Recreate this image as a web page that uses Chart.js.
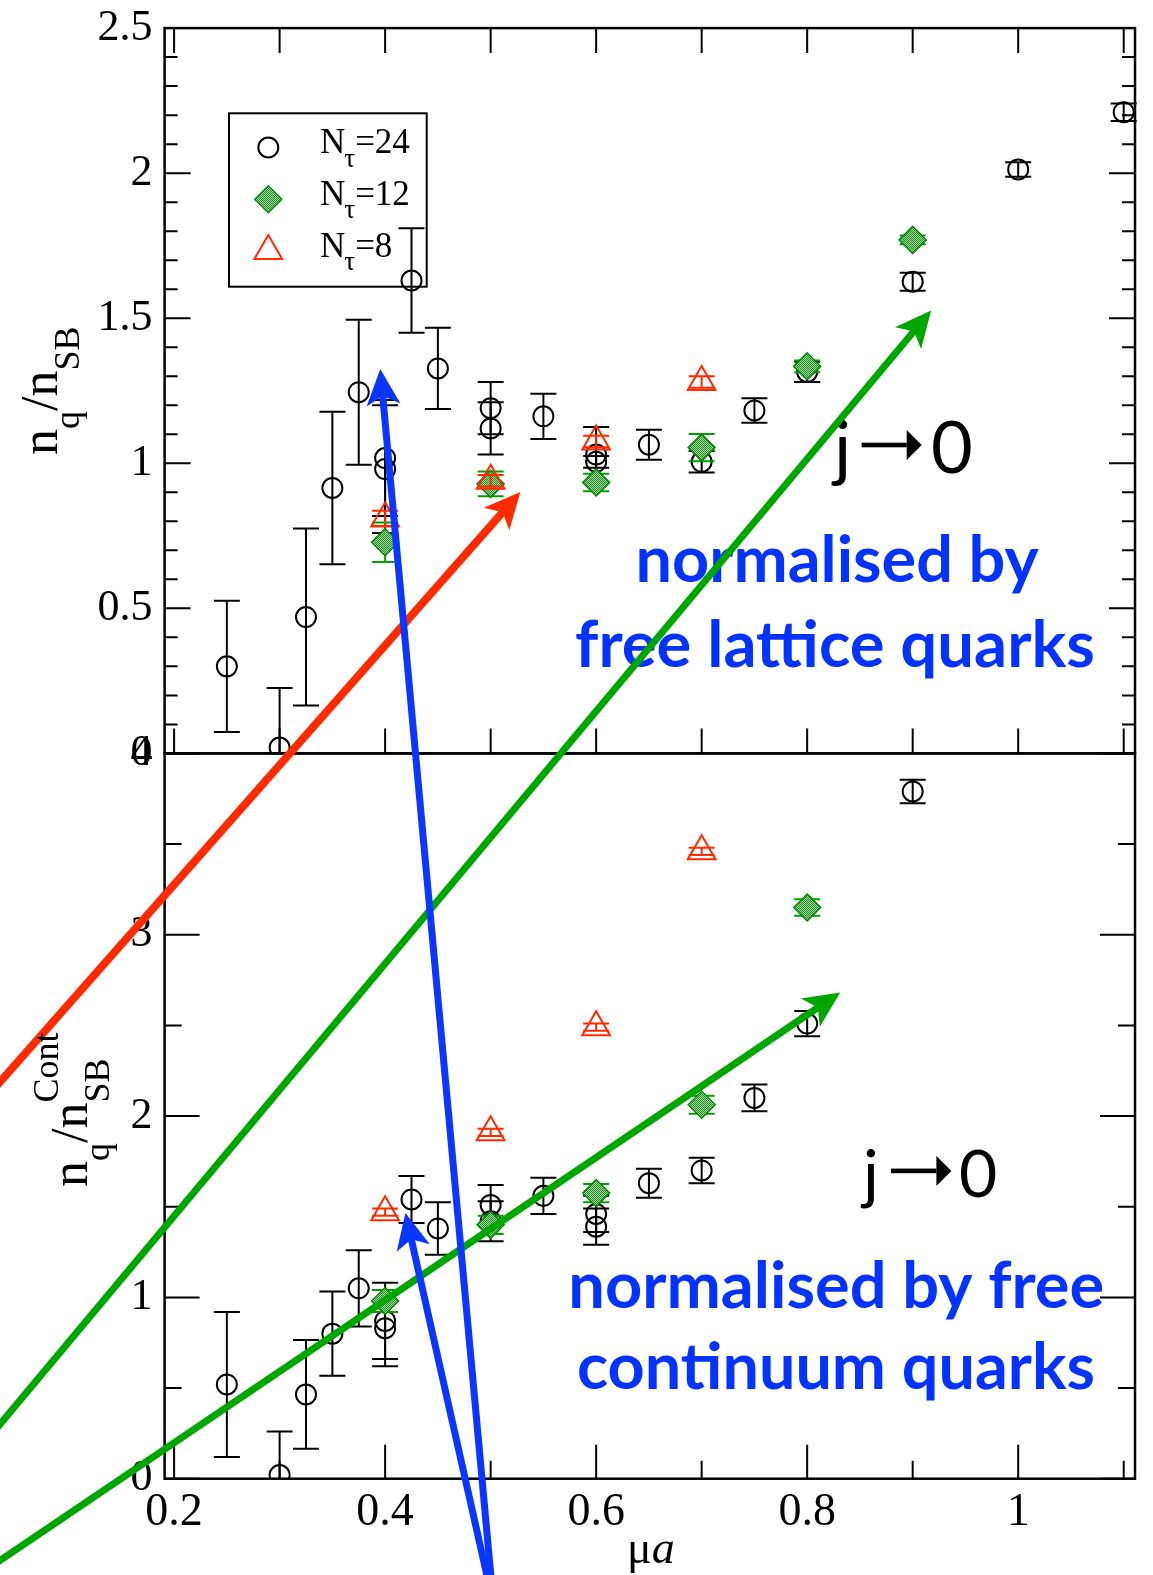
<!DOCTYPE html>
<html>
<head>
<meta charset="utf-8">
<script src="https://cdn.jsdelivr.net/npm/chart.js@4.4.0/dist/chart.umd.min.js"></script>
<style>
  html, body { margin: 0; padding: 0; background: #fff; }
  #wrap { width: 1153px; height: 1575px; }
</style>
</head>
<body>
<div id="wrap"><canvas id="c" width="1153" height="1575"></canvas></div>
<script>
// ---- data: top panel, n_q / n_SB (lattice normalisation) ----
var muTop24  = [0.25, 0.30, 0.325, 0.35, 0.375, 0.40, 0.40, 0.425, 0.45, 0.50, 0.50, 0.55, 0.60, 0.60, 0.65, 0.70, 0.75, 0.80, 0.90, 1.00, 1.10]
var nTop24   = [0.30, 0.02, 0.47, 0.915, 1.245, 1.018, 0.98, 1.63, 1.327, 1.19, 1.12, 1.162, 1.03, 1.005, 1.064, 1.005, 1.182, 1.315, 1.626, 2.013, 2.21]
var errTop24 = [0.226, 0.205, 0.305, 0.263, 0.25, 0.20, 0.22, 0.18, 0.14, 0.09, 0.09, 0.078, 0.095, 0.02, 0.052, 0.037, 0.042, 0.035, 0.031, 0.025, 0.03]

var muTop12  = [0.40, 0.50, 0.60, 0.70, 0.80, 0.90]
var nTop12   = [0.728, 0.929, 0.934, 1.054, 1.334, 1.770]
var errTop12 = [0.068, 0.043, 0.03, 0.047, 0.02, 0.015]

var muTop8   = [0.40, 0.50, 0.60, 0.70]
var nTop8    = [0.81, 0.94, 1.075, 1.28]
var errTop8  = [0.026, 0.02, 0.02, 0.02]

// ---- data: bottom panel, n_q / n_SB^Cont (continuum normalisation) ----
var muBot24  = [0.25, 0.30, 0.325, 0.35, 0.375, 0.40, 0.40, 0.425, 0.45, 0.50, 0.50, 0.55, 0.60, 0.60, 0.65, 0.70, 0.75, 0.80, 0.90]
var nBot24   = [0.52, 0.02, 0.465, 0.80, 1.05, 0.87, 0.83, 1.54, 1.38, 1.51, 1.42, 1.56, 1.46, 1.39, 1.63, 1.70, 2.10, 2.51, 3.79]
var errBot24 = [0.40, 0.24, 0.30, 0.232, 0.21, 0.21, 0.21, 0.13, 0.145, 0.11, 0.11, 0.10, 0.10, 0.10, 0.08, 0.07, 0.074, 0.07, 0.065]

var muBot12  = [0.40, 0.50, 0.60, 0.70, 0.80]
var nBot12   = [0.98, 1.40, 1.575, 2.062, 3.15]
var errBot12 = [0.06, 0.05, 0.05, 0.05, 0.045]

var muBot8   = [0.40, 0.50, 0.60, 0.70]
var nBot8    = [1.47, 1.91, 2.49, 3.46]
var errBot8  = [0.02, 0.02, 0.02, 0.02]

// ---- axes ----
var xTickVals   = [0.2, 0.4, 0.6, 0.8, 1.0]
var xTickLabels = ['0.2', '0.4', '0.6', '0.8', '1']
var yTopTicks   = [0, 0.5, 1, 1.5, 2, 2.5]
var yTopLabels  = ['0', '0.5', '1', '1.5', '2', '2.5']
var yBotTicks   = [0, 1, 2, 3, 4]
var yBotLabels  = ['0', '1', '2', '3', '4']
var xMin = 0.191, xMax = 1.1107

var legendLabels = ['24', '12', '8']

// overlaid arrows, in axis units: [x, y, y-axis]
var arrows = [
  { color: '#ff2a00', width: 8, from: [0.0356, 2.1915, 'yBot'], to: [0.5282, 0.9008, 'yTop'] },
  { color: '#00a600', width: 7, from: [0.0356, 0.3046, 'yBot'], to: [0.9175, 1.5265, 'yTop'] },
  { color: '#00a600', width: 7, from: [0.0356, -0.4486, 'yBot'], to: [0.8313, 2.6814, 'yBot'] },
  { color: '#0a36ff', width: 7, from: [0.5002, -0.5313, 'yBot'], to: [0.3954, 1.3246, 'yTop'] },
  { color: '#0a36ff', width: 7, from: [0.4964, -0.5313, 'yBot'], to: [0.4192, 1.466, 'yBot'] }
]

var serif = '"Liberation Serif", "Times New Roman", serif'
var sans = 'Lato, "Open Sans", sans-serif'
var blue = '#0433ff'

function diamondFill() {
  var c = document.createElement('canvas')
  c.width = 2; c.height = 2
  var g = c.getContext('2d')
  g.fillStyle = '#a4d6a4'; g.fillRect(0, 0, 2, 2)
  g.fillStyle = '#228c22'; g.fillRect(0, 0, 1, 1); g.fillRect(1, 1, 1, 1)
  return g.createPattern(c, 'repeat')
}
var greenFill = diamondFill()

var style24 = { pointStyle: 'circle', pointRadius: 10, pointBorderWidth: 2, pointBorderColor: '#000', pointBackgroundColor: 'rgba(0,0,0,0)', errColor: '#000', order: 3 }
var style12 = { pointStyle: 'rectRot', pointRadius: 13.5, pointBorderWidth: 1.5, pointBorderColor: '#008a00', pointBackgroundColor: greenFill, errColor: '#00a000', order: 2 }
var style8  = { pointStyle: 'triangle', pointRadius: 16, pointBorderWidth: 2, pointBorderColor: '#ff2a00', pointBackgroundColor: 'rgba(0,0,0,0)', errColor: '#ff2a00', order: 1 }

function makeSet(label, xs, ys, es, axis, st) {
  var pts = xs.map(function (x, i) { return { x: x, y: ys[i], e: es[i] } })
  return Object.assign({ label: label, data: pts, yAxisID: axis, showLine: false,
    borderColor: st.pointBorderColor, backgroundColor: st.pointBackgroundColor,
    pointHoverRadius: st.pointRadius }, st)
}

function rangeTicks(s, vals) { s.ticks = vals.map(function (v) { return { value: v } }) }

// keep the plot area fixed: no extra room for overhanging tick labels
function noPad(s) { s.paddingTop = 0; s.paddingBottom = 0; s.paddingLeft = 0; s.paddingRight = 0 }

// error bars, drawn under each set's symbols and clipped to its panel
var errorBars = {
  id: 'errorBars',
  beforeDatasetDraw: function (chart, args) {
    var ds = chart.data.datasets[args.index]
    var xs = chart.scales.x, ys = chart.scales[ds.yAxisID], ctx = chart.ctx
    ctx.save()
    ctx.beginPath()
    ctx.rect(xs.left - 30, ys.top, xs.right - xs.left + 60, ys.bottom - ys.top)
    ctx.clip()
    ctx.strokeStyle = ds.errColor
    ctx.lineWidth = 2
    ds.data.forEach(function (p) {
      var x = xs.getPixelForValue(p.x)
      var y0 = ys.getPixelForValue(p.y - p.e), y1 = ys.getPixelForValue(p.y + p.e)
      ctx.beginPath()
      ctx.moveTo(x, y0); ctx.lineTo(x, y1)
      ctx.moveTo(x - 13, y0); ctx.lineTo(x + 13, y0)
      ctx.moveTo(x - 13, y1); ctx.lineTo(x + 13, y1)
      ctx.stroke()
    })
    ctx.restore()
  }
}

function legendSymbol(ctx, i, x, y) {
  ctx.beginPath()
  if (i == 0) {
    ctx.arc(x, y, 10, 0, 2 * Math.PI)
    ctx.lineWidth = 2; ctx.strokeStyle = '#000'; ctx.stroke()
  } else if (i == 1) {
    ctx.moveTo(x - 13.5, y); ctx.lineTo(x, y - 13.5); ctx.lineTo(x + 13.5, y); ctx.lineTo(x, y + 13.5); ctx.closePath()
    ctx.fillStyle = greenFill; ctx.fill()
    ctx.lineWidth = 1.5; ctx.strokeStyle = '#008a00'; ctx.stroke()
  } else {
    ctx.moveTo(x, y - 16); ctx.lineTo(x + 13.86, y + 8); ctx.lineTo(x - 13.86, y + 8); ctx.closePath()
    ctx.lineWidth = 2; ctx.strokeStyle = '#ff2a00'; ctx.stroke()
  }
}

function fitFont(ctx, text, weight, family, targetW) {
  ctx.font = weight + ' 60px ' + family
  return 60 * targetW / ctx.measureText(text).width
}

function jArrow(ctx, xj, x0, x1, xz, yArrow, base, size) {
  ctx.fillStyle = '#000'
  ctx.font = size + 'px ' + sans
  ctx.textBaseline = 'alphabetic'
  ctx.textAlign = 'left'
  ctx.fillText('j', xj, base)
  ctx.fillText('0', xz, base)
  ctx.fillRect(x0, yArrow - 2.3, x1 - 15 - x0, 4.6)
  ctx.beginPath()
  ctx.moveTo(x1, yArrow); ctx.lineTo(x1 - 15, yArrow - 15); ctx.lineTo(x1 - 15, yArrow + 15); ctx.closePath()
  ctx.fill()
}

var frameAndText = {
  id: 'frameAndText',
  beforeDatasetsDraw: function (chart) {
    var ctx = chart.ctx, xs = chart.scales.x, yt = chart.scales.yTop, yb = chart.scales.yBot
    var L = xs.left, R = xs.right
    ctx.save()
    ctx.strokeStyle = '#000'
    ctx.lineWidth = 2
    ctx.beginPath()
    var i, x, y, len
    // x ticks of the top panel (top and bottom edges)
    for (i = 2; i <= 11; i++) {
      x = xs.getPixelForValue(i / 10)
      ctx.moveTo(x, yt.top); ctx.lineTo(x, yt.top + 25)
      ctx.moveTo(x, yt.bottom); ctx.lineTo(x, yt.bottom - 25)
    }
    // x ticks of the bottom panel
    for (i = 2; i <= 11; i++) {
      x = xs.getPixelForValue(i / 10)
      len = i % 2 == 0 ? 34 : 18
      ctx.moveTo(x, yb.bottom); ctx.lineTo(x, yb.bottom - len)
    }
    // y ticks, both sides
    for (i = 0; i <= 25; i++) {
      y = yt.getPixelForValue(i / 10)
      len = i % 5 == 0 ? 26 : 13
      ctx.moveTo(L, y); ctx.lineTo(L + len, y)
      ctx.moveTo(R, y); ctx.lineTo(R - len, y)
    }
    for (i = 0; i <= 8; i++) {
      y = yb.getPixelForValue(i / 2)
      len = i % 2 == 0 ? 35 : 17
      ctx.moveTo(L, y); ctx.lineTo(L + len, y)
      ctx.moveTo(R, y); ctx.lineTo(R - len, y)
    }
    ctx.stroke()
    ctx.lineWidth = 2.5
    ctx.strokeRect(L, yt.top, R - L, yt.bottom - yt.top)
    ctx.strokeRect(L, yb.top, R - L, yb.bottom - yb.top)

    // legend
    ctx.lineWidth = 2
    ctx.strokeStyle = '#000'
    ctx.strokeRect(229, 113.3, 197.7, 173.4)
    legendLabels.forEach(function (lab, k) {
      var base = 153.3 + k * 51.7
      legendSymbol(ctx, k, 268.3, base - 5.8)
      ctx.fillStyle = '#000'
      ctx.textBaseline = 'alphabetic'
      ctx.textAlign = 'left'
      ctx.font = '35px ' + serif
      ctx.fillText('N', 320, base)
      var w = ctx.measureText('N').width
      ctx.font = '27px ' + serif
      ctx.fillText('\u03c4', 320 + w - 1, base + 13.4)
      var w2 = ctx.measureText('\u03c4').width
      ctx.font = '35px ' + serif
      ctx.fillText('=' + lab, 320 + w + w2 - 1, base)
    })

    // annotations
    ctx.fillStyle = blue
    ctx.textBaseline = 'alphabetic'
    ctx.textAlign = 'left'
    var lines = [
      ['normalised by', 635.6, 581.6, 403],
      ['free lattice quarks', 575.1, 666.5, 520],
      ['normalised by free', 568.3, 1307.7, 536],
      ['continuum quarks', 577, 1389.2, 518]
    ]
    lines.forEach(function (l) {
      var size = fitFont(ctx, l[0], 'bold', sans, l[3])
      ctx.font = 'bold ' + size + 'px ' + sans
      ctx.fillText(l[0], l[1], l[2])
    })
    jArrow(ctx, 834, 861.7, 921.7, 931, 445, 472.5, 72)
    jArrow(ctx, 863, 891, 951.4, 959, 1170.9, 1197.2, 66)
    ctx.restore()
  },
  afterDraw: function (chart) {
    var ctx = chart.ctx, xs = chart.scales.x
    ctx.save()
    // arrows
    arrows.forEach(function (a) {
      var x0 = xs.getPixelForValue(a.from[0]), y0 = chart.scales[a.from[2]].getPixelForValue(a.from[1])
      var x1 = xs.getPixelForValue(a.to[0]), y1 = chart.scales[a.to[2]].getPixelForValue(a.to[1])
      var dx = x1 - x0, dy = y1 - y0, d = Math.sqrt(dx * dx + dy * dy)
      var ux = dx / d, uy = dy / d, nx = -uy, ny = ux
      var head = 36, half = 17, notch = 9
      ctx.strokeStyle = a.color
      ctx.fillStyle = a.color
      ctx.lineWidth = a.width
      ctx.lineCap = 'butt'
      ctx.beginPath()
      ctx.moveTo(x0 - ux * 30, y0 - uy * 30)
      ctx.lineTo(x1 - ux * (head - notch - 2), y1 - uy * (head - notch - 2))
      ctx.stroke()
      ctx.beginPath()
      ctx.moveTo(x1, y1)
      ctx.lineTo(x1 - ux * head + nx * half, y1 - uy * head + ny * half)
      ctx.lineTo(x1 - ux * (head - notch), y1 - uy * (head - notch))
      ctx.lineTo(x1 - ux * head - nx * half, y1 - uy * head - ny * half)
      ctx.closePath()
      ctx.fill()
    })

    // axis titles
    ctx.fillStyle = '#000'
    ctx.textBaseline = 'alphabetic'
    ctx.textAlign = 'left'
    ctx.font = '46px ' + serif
    ctx.fillText('\u03bc', 627, 1563)
    var wm = ctx.measureText('\u03bc').width
    ctx.font = 'italic 46px ' + serif
    ctx.fillText('a', 627 + wm, 1563)

    function title(bx, by, cont) {
      ctx.save()
      ctx.translate(bx, by)
      ctx.rotate(-Math.PI / 2)
      var p = 0
      ctx.font = '52px ' + serif
      ctx.fillText('n', p, 0); p += ctx.measureText('n').width
      ctx.font = '36px ' + serif
      ctx.fillText('q', p, 22); p += ctx.measureText('q').width
      ctx.font = '52px ' + serif
      ctx.fillText('/', p, 0); p += ctx.measureText('/').width
      ctx.fillText('n', p, 0); p += ctx.measureText('n').width
      ctx.font = '36px ' + serif
      ctx.fillText('SB', p, 22)
      if (cont) ctx.fillText('Cont', p, -29)
      ctx.restore()
    }
    title(56.7, 455, false)
    title(86.7, 1187, true)
    ctx.restore()
  }
}

var chart = new Chart(document.getElementById('c'), {
  type: 'scatter',
  data: {
    datasets: [
      makeSet('Ntau=24', muTop24, nTop24, errTop24, 'yTop', style24),
      makeSet('Ntau=12', muTop12, nTop12, errTop12, 'yTop', style12),
      makeSet('Ntau=8', muTop8, nTop8, errTop8, 'yTop', style8),
      makeSet('Ntau=24 cont', muBot24, nBot24, errBot24, 'yBot', style24),
      makeSet('Ntau=12 cont', muBot12, nBot12, errBot12, 'yBot', style12),
      makeSet('Ntau=8 cont', muBot8, nBot8, errBot8, 'yBot', style8)
    ]
  },
  options: {
    responsive: false,
    animation: false,
    events: [],
    layout: { padding: { top: 28.1, right: 14.4, left: 0, bottom: 0 } },
    plugins: { legend: { display: false }, tooltip: { enabled: false } },
    scales: {
      x: {
        type: 'linear', position: 'bottom', min: xMin, max: xMax,
        afterBuildTicks: function (s) { rangeTicks(s, xTickVals) },
        afterFit: function (s) { s.height = 96.3; noPad(s) },
        ticks: {
          autoSkip: false, maxRotation: 0, padding: 7, color: '#000',
          font: { family: serif, size: 46 },
          callback: function (v) { return xTickLabels[xTickVals.indexOf(v)] }
        },
        grid: { display: false, drawTicks: false }, border: { display: false }
      },
      yTop: {
        type: 'linear', position: 'left', stack: 'panels', stackWeight: 1, weight: 2,
        min: 0, max: 2.5,
        afterBuildTicks: function (s) { rangeTicks(s, yTopTicks) },
        afterFit: function (s) { s.width = 164.6; noPad(s) },
        ticks: {
          autoSkip: false, padding: 12, color: '#000',
          font: { family: serif, size: 44 },
          callback: function (v) { return yTopLabels[yTopTicks.indexOf(v)] }
        },
        grid: { display: false, drawTicks: false }, border: { display: false }
      },
      yBot: {
        type: 'linear', position: 'left', stack: 'panels', stackWeight: 1, weight: 1,
        min: 0, max: 4,
        afterBuildTicks: function (s) { rangeTicks(s, yBotTicks) },
        afterFit: function (s) { s.width = 164.6; noPad(s) },
        ticks: {
          autoSkip: false, padding: 12, color: '#000',
          font: { family: serif, size: 44 },
          callback: function (v) { return yBotLabels[yBotTicks.indexOf(v)] }
        },
        grid: { display: false, drawTicks: false }, border: { display: false }
      }
    }
  },
  plugins: [frameAndText, errorBars]
})
</script>
</body>
</html>
